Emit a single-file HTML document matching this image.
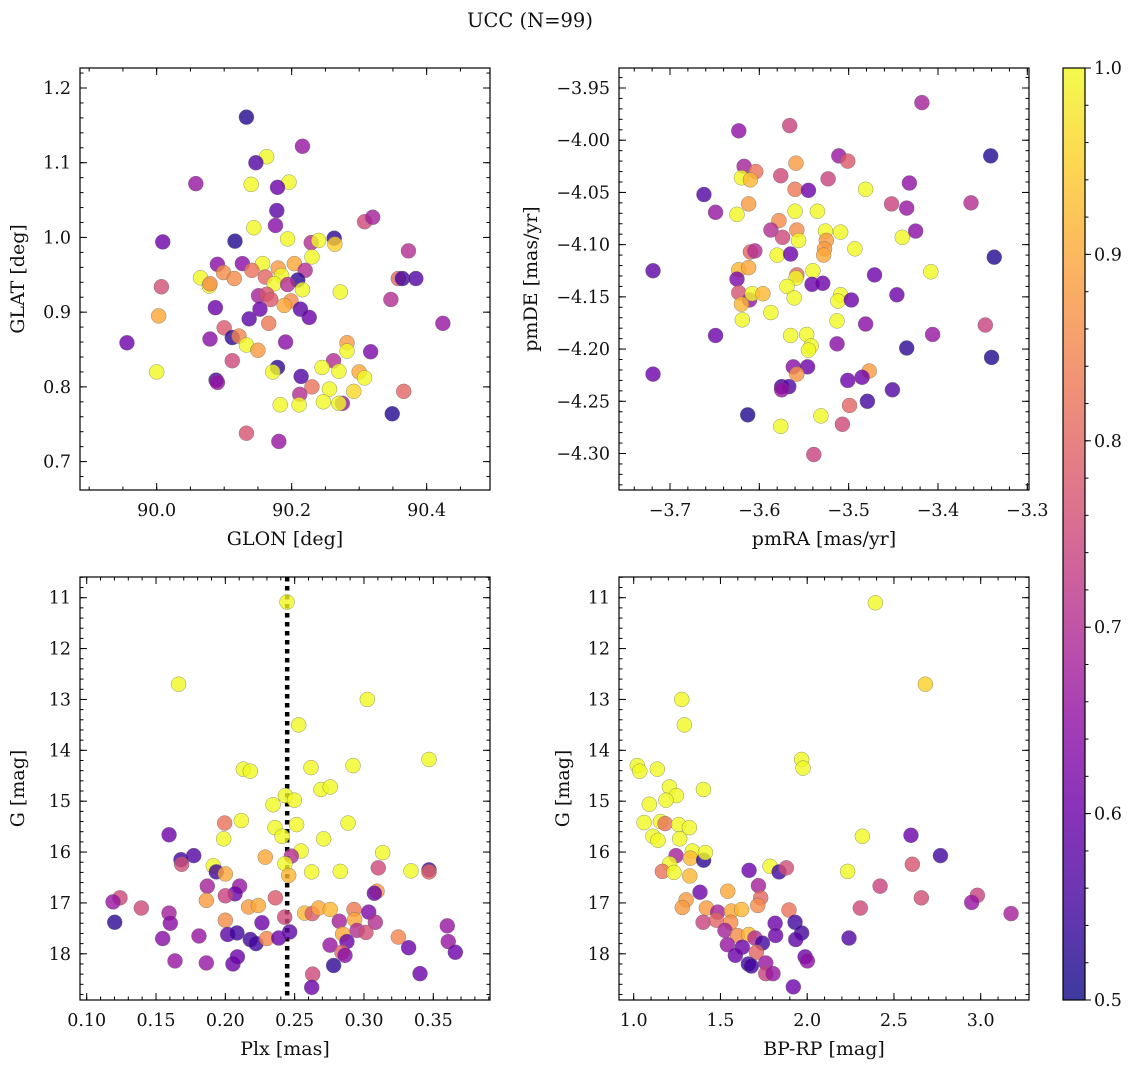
<!DOCTYPE html>
<html><head><meta charset="utf-8"><title>UCC (N=99)</title>
<style>
html,body{margin:0;padding:0;background:#fff;}
svg{display:block;}
text{font-family:"DejaVu Serif","Liberation Serif",serif;fill:#111;}
</style></head>
<body>
<svg id="fig" width="1136" height="1067" viewBox="0 0 1136 1067" xmlns="http://www.w3.org/2000/svg">
<defs>
<linearGradient id="plasma" x1="0" y1="1" x2="0" y2="0">
<stop offset="0" stop-color="#0d0887"/><stop offset="0.1" stop-color="#41049d"/><stop offset="0.2" stop-color="#6a00a8"/><stop offset="0.3" stop-color="#8f0da4"/><stop offset="0.4" stop-color="#b12a90"/><stop offset="0.5" stop-color="#cc4778"/><stop offset="0.6" stop-color="#e16462"/><stop offset="0.7" stop-color="#f2844b"/><stop offset="0.8" stop-color="#fca636"/><stop offset="0.9" stop-color="#fcce25"/><stop offset="1" stop-color="#f0f921"/>
</linearGradient>
</defs>
<text x="530" y="27" font-size="19.5" text-anchor="middle">UCC (N=99)</text>
<g id="layer"></g>
</svg>
<script>
// ---- Panel 1: GLON vs GLAT ----
const p1Glon=[90.133,90.216,90.163,90.147,90.058,90.140,90.196,90.179,90.178,90.176,90.144,90.194,90.116,90.009,90.229,90.240,90.263,90.264,90.308,90.320,90.373,90.230,90.090,90.127,90.157,90.204,90.180,90.141,90.220,90.099,90.065,90.115,90.161,90.185,90.209,90.078,90.079,90.174,90.194,90.216,90.272,90.358,90.364,90.384,90.007,90.151,90.163,90.169,90.199,90.189,90.347,90.087,90.153,90.213,90.226,90.137,90.003,90.166,90.424,90.100,90.112,90.122,90.079,90.133,90.150,90.191,90.282,90.282,90.317,89.956,90.112,90.262,90.179,90.172,90.245,90.270,90.300,90.308,90.000,90.088,90.090,90.214,90.230,90.256,90.292,90.366,90.212,90.247,90.275,90.270,90.183,90.211,90.349,90.133,90.181];
const p1Glat=[1.161,1.122,1.108,1.100,1.072,1.071,1.074,1.067,1.036,1.016,1.013,0.998,0.995,0.994,0.993,0.996,0.999,0.991,1.021,1.027,0.982,0.974,0.964,0.965,0.965,0.965,0.959,0.956,0.956,0.953,0.946,0.945,0.947,0.949,0.943,0.935,0.938,0.938,0.937,0.930,0.927,0.945,0.945,0.945,0.934,0.922,0.924,0.917,0.915,0.909,0.917,0.906,0.904,0.904,0.893,0.891,0.895,0.885,0.885,0.879,0.866,0.868,0.864,0.856,0.849,0.860,0.859,0.848,0.847,0.859,0.835,0.835,0.826,0.820,0.826,0.821,0.820,0.812,0.820,0.809,0.806,0.814,0.800,0.797,0.794,0.794,0.790,0.780,0.778,0.778,0.776,0.776,0.764,0.738,0.727];
const p1Prob=[.52,.66,1,.57,.66,1,1,.6,.58,.64,1,1,.52,.6,.7,1,.53,.95,.75,.68,.7,1,.64,.64,1,.9,.88,.82,.7,.86,1,.86,.8,1,.53,1,.86,1,.7,1,1,.8,.55,.57,.76,.68,.77,.78,.86,.9,.7,.6,.6,.58,.6,.58,.9,.83,.66,.78,.53,.85,.64,1,.88,.64,.88,1,.62,.6,.75,.7,.53,1,1,1,.9,1,1,.55,.66,.57,.82,1,.96,.8,.7,1,.66,1,1,1,.52,.77,.66];
// ---- Panel 2: pmRA vs pmDE ----
const p2PmRA=[-3.418,-3.566,-3.623,-3.341,-3.511,-3.501,-3.559,-3.617,-3.604,-3.620,-3.610,-3.576,-3.523,-3.432,-3.662,-3.560,-3.545,-3.481,-3.612,-3.649,-3.625,-3.560,-3.535,-3.452,-3.435,-3.363,-3.578,-3.587,-3.558,-3.574,-3.556,-3.526,-3.509,-3.525,-3.527,-3.528,-3.440,-3.425,-3.493,-3.610,-3.605,-3.580,-3.565,-3.337,-3.719,-3.623,-3.612,-3.625,-3.540,-3.558,-3.559,-3.471,-3.408,-3.541,-3.529,-3.623,-3.611,-3.608,-3.596,-3.620,-3.569,-3.561,-3.509,-3.512,-3.497,-3.446,-3.587,-3.619,-3.513,-3.481,-3.347,-3.649,-3.565,-3.547,-3.542,-3.545,-3.513,-3.406,-3.435,-3.340,-3.719,-3.562,-3.546,-3.558,-3.477,-3.485,-3.501,-3.575,-3.567,-3.575,-3.451,-3.479,-3.499,-3.613,-3.531,-3.576,-3.507,-3.539];
const p2PmDE=[-3.964,-3.986,-3.991,-4.015,-4.015,-4.020,-4.022,-4.025,-4.030,-4.036,-4.038,-4.034,-4.037,-4.041,-4.052,-4.047,-4.048,-4.047,-4.061,-4.069,-4.071,-4.068,-4.068,-4.061,-4.065,-4.060,-4.077,-4.086,-4.086,-4.093,-4.096,-4.087,-4.088,-4.096,-4.104,-4.110,-4.093,-4.087,-4.104,-4.107,-4.106,-4.110,-4.109,-4.112,-4.125,-4.124,-4.122,-4.133,-4.125,-4.129,-4.132,-4.129,-4.126,-4.138,-4.137,-4.146,-4.153,-4.147,-4.147,-4.157,-4.140,-4.151,-4.148,-4.154,-4.153,-4.148,-4.165,-4.172,-4.173,-4.176,-4.177,-4.187,-4.187,-4.186,-4.197,-4.201,-4.195,-4.186,-4.199,-4.208,-4.224,-4.217,-4.217,-4.224,-4.221,-4.227,-4.230,-4.236,-4.236,-4.239,-4.239,-4.250,-4.254,-4.263,-4.264,-4.274,-4.272,-4.301];
const p2Prob=[.68,.74,.65,.52,.66,.78,.88,.68,.82,1,.92,.75,.74,.65,.57,.83,.6,1,.88,.66,1,1,1,.74,.66,.7,.86,.7,.86,.75,1,1,1,.88,.88,.9,1,.64,1,.8,.7,1,.6,.52,.58,.92,.9,.62,1,.8,1,.6,1,.6,.6,.77,.66,1,.92,.92,1,1,1,1,.6,.6,1,1,1,.64,.74,.6,1,1,1,1,.64,.66,.53,.52,.6,.64,.6,.87,.88,.6,.6,.55,.57,.66,.57,.55,.8,.52,1,1,.75,.74];
// ---- Panel 3: Plx vs G ----
const p3Plx=[0.2445,0.1663,0.3024,0.2529,0.3469,0.2130,0.2180,0.2618,0.2921,0.2690,0.2757,0.2433,0.2498,0.2344,0.2115,0.1995,0.2358,0.2514,0.2885,0.2409,0.1988,0.2709,0.1594,0.2546,0.3135,0.2288,0.2476,0.1772,0.1680,0.1685,0.2430,0.1913,0.1935,0.2000,0.2457,0.2623,0.2829,0.3103,0.3339,0.3469,0.3469,0.1870,0.2103,0.2070,0.2000,0.1240,0.1190,0.1394,0.1863,0.2168,0.2238,0.2361,0.1594,0.1603,0.1202,0.2000,0.2264,0.2428,0.2464,0.2572,0.2627,0.2673,0.2757,0.2928,0.2933,0.2822,0.3034,0.3082,0.3094,0.3075,0.2950,0.3014,0.2846,0.3248,0.3601,0.1548,0.1810,0.2017,0.2084,0.2180,0.2221,0.2298,0.2385,0.2755,0.2877,0.2841,0.2863,0.3322,0.3608,0.3659,0.1637,0.1863,0.2055,0.2087,0.2781,0.2630,0.2623,0.3404];
const p3G=[11.085,12.70,13.00,13.50,14.18,14.37,14.41,14.34,14.30,14.77,14.72,14.89,14.98,15.07,15.38,15.43,15.52,15.46,15.43,15.69,15.74,15.74,15.66,15.98,16.01,16.10,16.08,16.07,16.15,16.24,16.23,16.27,16.39,16.43,16.46,16.39,16.38,16.31,16.37,16.35,16.39,16.67,16.67,16.82,16.86,16.90,16.98,17.10,16.95,17.08,17.05,16.90,17.20,17.40,17.38,17.34,17.39,17.28,17.57,17.20,17.21,17.10,17.13,17.13,17.33,17.36,17.18,17.38,16.77,16.81,17.54,17.58,17.61,17.67,17.45,17.70,17.65,17.62,17.59,17.72,17.80,17.70,17.69,17.83,17.76,17.97,18.03,17.88,17.76,17.97,18.14,18.18,18.20,18.06,18.23,18.40,18.66,18.39];
const p3Prob=[1,1,1,1,1,1,1,1,1,1,1,1,1,1,1,.82,1,1,1,1,1,1,.6,1,1,.9,.7,.57,.55,.76,1,1,.55,.9,.92,1,1,.75,1,.55,.8,.68,.66,.6,.74,.75,.66,.75,.88,.88,.9,.78,.68,.64,.53,.86,.6,.75,.58,.92,.78,.9,.92,.83,.9,.68,.62,.7,.88,.6,.7,.76,.9,.85,.66,.64,.66,.58,.55,.55,.55,.85,.6,.66,.6,.8,.64,.6,.66,.6,.66,.66,.6,.6,.53,.75,.6,.6];
const p3PlxLine=[0.2446];
// ---- Panel 4: BP-RP vs G ----
const p4BpRp=[2.393,2.681,1.277,1.292,1.968,1.976,1.021,1.035,1.136,1.206,1.402,1.246,1.186,1.090,1.060,1.154,1.181,1.259,1.321,1.111,1.140,1.265,2.318,2.598,1.244,1.338,1.327,1.403,1.413,2.768,1.207,1.165,1.232,1.323,1.665,1.786,1.838,1.880,2.233,2.606,1.719,1.382,1.542,2.420,1.302,1.280,1.732,1.715,2.658,2.981,2.948,3.175,2.306,1.419,1.484,1.563,1.622,1.895,1.400,1.476,1.559,1.815,1.930,1.526,1.598,1.663,1.699,1.742,1.818,1.968,1.934,2.241,1.540,1.626,1.707,1.586,1.661,1.678,1.761,1.761,1.803,1.988,2.001,1.920];
const p4G=[11.10,12.70,13.00,13.50,14.18,14.35,14.30,14.41,14.37,14.72,14.77,14.89,14.98,15.06,15.42,15.40,15.44,15.46,15.52,15.69,15.77,15.74,15.69,15.67,16.07,15.98,16.12,16.16,16.01,16.07,16.23,16.38,16.40,16.47,16.36,16.28,16.39,16.31,16.38,16.24,16.66,16.79,16.77,16.67,16.94,17.09,16.90,17.05,16.90,16.85,16.99,17.21,17.10,17.10,17.18,17.16,17.13,17.14,17.38,17.34,17.38,17.40,17.38,17.54,17.64,17.62,17.69,17.79,17.64,17.59,17.72,17.69,17.82,17.87,17.97,18.03,18.20,18.24,18.18,18.39,18.39,18.06,18.14,18.65];
const p4Prob=[1,.95,1,1,1,1,1,1,1,1,1,1,1,1,1,1,.82,1,1,1,1,1,1,.6,.68,1,.92,.53,1,.55,1,.82,1,.92,.6,1,.55,.76,1,.77,.68,.6,.9,.74,.88,.88,.8,.86,.76,.74,.66,.68,.75,.88,.68,.9,.92,.82,.74,.8,.86,.6,.55,.68,.86,.92,.7,.55,.6,.55,.58,.57,.66,.6,.8,.6,.55,.55,.66,.74,.66,.6,.65,.6];
// ---- tick labels ----
const p1XTicks=[90.0,90.2,90.4], p1XLabels=["90.0","90.2","90.4"];
const p1YTicks=[0.7,0.8,0.9,1.0,1.1,1.2], p1YLabels=["0.7","0.8","0.9","1.0","1.1","1.2"];
const p2XTicks=[-3.7,-3.6,-3.5,-3.4,-3.3], p2XLabels=["−3.7","−3.6","−3.5","−3.4","−3.3"];
const p2YTicks=[-3.95,-4.00,-4.05,-4.10,-4.15,-4.20,-4.25,-4.30], p2YLabels=["−3.95","−4.00","−4.05","−4.10","−4.15","−4.20","−4.25","−4.30"];
const p3XTicks=[0.10,0.15,0.20,0.25,0.30,0.35], p3XLabels=["0.10","0.15","0.20","0.25","0.30","0.35"];
const gTicks=[11,12,13,14,15,16,17,18], gLabels=["11","12","13","14","15","16","17","18"];
const p4XTicks=[1.0,1.5,2.0,2.5,3.0], p4XLabels=["1.0","1.5","2.0","2.5","3.0"];
const cbTicks=[0.5,0.6,0.7,0.8,0.9,1.0], cbLabels=["0.5","0.6","0.7","0.8","0.9","1.0"];

const NS="http://www.w3.org/2000/svg";
const layer=document.getElementById('layer');
const TICKFS=17.5, LABFS=19;
function mk(tag,attrs,parent){const e=document.createElementNS(NS,tag);for(const k in attrs)e.setAttribute(k,attrs[k]);(parent||layer).appendChild(e);return e;}
function lin(d0,d1,r0,r1){return v=>r0+(v-d0)/(d1-d0)*(r1-r0);}
const stops=[[13,8,135],[65,4,157],[106,0,168],[143,13,164],[177,42,144],[204,71,120],[225,100,98],[242,132,75],[252,166,54],[252,206,37],[240,249,33]];
function plasma(p){let t=Math.max(0,Math.min(1,(p-0.5)/0.5))*10;const i=Math.min(9,Math.floor(t));const f=t-i;const a=stops[i],b=stops[i+1];return `rgb(${[0,1,2].map(k=>Math.round(a[k]+(b[k]-a[k])*f)).join(',')})`;}
function range(a,b,s){const o=[];for(let k=Math.ceil(a/s-1e-6);k*s<=b+1e-9;k++)o.push(+(k*s).toFixed(6));return o;}

function panel(cfg){
  const g=mk('g',{});
  
  
  const {L,R,T,B,xs,ys}=cfg;
  const clipId=cfg.name+'-clip';
  const cp=mk('clipPath',{id:clipId},g);mk('rect',{x:L,y:T,width:R-L,height:B-T},cp);
  const pts=mk('g',{'clip-path':`url(#${clipId})`},g);
  
  
  if(cfg.vline){cfg.vline.forEach(v=>{const l=mk('line',{x1:xs(v),x2:xs(v),y1:T,y2:B,stroke:'#000','stroke-width':4.5,'stroke-dasharray':'4.5 4.5'},pts);
    
    });}
  const n=Math.min(cfg.x.length,cfg.y.length,cfg.c.length);
  for(let i=0;i<n;i++){
    const c=mk('circle',{cx:xs(cfg.x[i]).toFixed(2),cy:ys(cfg.y[i]).toFixed(2),r:7.5,fill:plasma(cfg.c[i]),'fill-opacity':0.8,stroke:'#666','stroke-width':0.5,'stroke-opacity':0.7},pts);
    
    
  }
  const tk=mk('g',{stroke:'#000','stroke-width':1},g);
  
  
  range(cfg.xMinor[0],cfg.xMinor[1],cfg.xMinor[2]).forEach(v=>{const x=xs(v);if(x<L-0.5||x>R+0.5)return;mk('line',{x1:x,x2:x,y1:B,y2:B-3.5},tk);mk('line',{x1:x,x2:x,y1:T,y2:T+3.5},tk);});
  range(cfg.yMinor[0],cfg.yMinor[1],cfg.yMinor[2]).forEach(v=>{const y=ys(v);if(y<T-0.5||y>B+0.5)return;mk('line',{x1:L,x2:L+3.5,y1:y,y2:y},tk);mk('line',{x1:R,x2:R-3.5,y1:y,y2:y},tk);});
  cfg.xT.forEach((v,i)=>{const x=xs(v);mk('line',{x1:x,x2:x,y1:B,y2:B-7},tk);mk('line',{x1:x,x2:x,y1:T,y2:T+7},tk);
    const t=mk('text',{x:x,y:B+26,'font-size':TICKFS,'text-anchor':'middle'},g);t.textContent=cfg.xL[i];
    
    });
  cfg.yT.forEach((v,i)=>{const y=ys(v);mk('line',{x1:L,x2:L+7,y1:y,y2:y},tk);mk('line',{x1:R,x2:R-7,y1:y,y2:y},tk);
    const t=mk('text',{x:L-9,y:y+6,'font-size':TICKFS,'text-anchor':'end'},g);t.textContent=cfg.yL[i];
    
    });
  const fr=mk('rect',{x:L,y:T,width:R-L,height:B-T,fill:'none',stroke:'#000','stroke-width':1.2},g);
  
  
  const xl=mk('text',{x:(L+R)/2,y:B+55,'font-size':LABFS,'text-anchor':'middle'},g);xl.textContent=cfg.xlab;
  
  
  const yx=cfg.ylabX, yy=(T+B)/2;
  const yl=mk('text',{x:yx,y:yy,'font-size':LABFS,'text-anchor':'middle',transform:`rotate(-90 ${yx} ${yy})`},g);yl.textContent=cfg.ylab;
  
  
}
const gScale=lin(11,18,597.7,953.8);
panel({name:'glon-glat-panel',L:80,R:490,T:68,B:490,xs:lin(90,90.4,156.67,426.67),ys:lin(1.2,0.7,88,461.6),
  x:p1Glon,y:p1Glat,c:p1Prob,xT:p1XTicks,xL:p1XLabels,yT:p1YTicks,yL:p1YLabels,xMinor:[89.8,90.55,0.05],yMinor:[0.6,1.3,0.02],
  xlab:'GLON [deg]',ylab:'GLAT [deg]',ylabX:24});
panel({name:'pm-panel',L:619,R:1029,T:68,B:490,xs:lin(-3.7,-3.3,670,1027.3),ys:lin(-3.95,-4.30,88,453.5),
  x:p2PmRA,y:p2PmDE,c:p2Prob,xT:p2XTicks,xL:p2XLabels,yT:p2YTicks,yL:p2YLabels,xMinor:[-3.8,-3.26,0.02],yMinor:[-4.36,-3.9,0.01],
  xlab:'pmRA [mas/yr]',ylab:'pmDE [mas/yr]',ylabX:537});
panel({name:'plx-g-panel',L:80,R:490,T:577,B:1000,xs:lin(0.10,0.35,86.7,433.3),ys:gScale,
  x:p3Plx,y:p3G,c:p3Prob,xT:p3XTicks,xL:p3XLabels,yT:gTicks,yL:gLabels,xMinor:[0.05,0.42,0.01],yMinor:[10,19.4,0.2],
  xlab:'Plx [mas]',ylab:'G [mag]',ylabX:24,vline:p3PlxLine});
panel({name:'cmd-panel',L:619,R:1029,T:577,B:1000,xs:lin(1.0,3.0,633.7,980.7),ys:gScale,
  x:p4BpRp,y:p4G,c:p4Prob,xT:p4XTicks,xL:p4XLabels,yT:gTicks,yL:gLabels,xMinor:[0.8,3.4,0.1],yMinor:[10,19.4,0.2],
  xlab:'BP-RP [mag]',ylab:'G [mag]',ylabX:569});
(function(){
  const cb=mk('g',{});
  
  
  const s=lin(0.5,1.0,1000,68);
  const r=mk('rect',{x:1063,y:68,width:22,height:932,fill:'url(#plasma)','fill-opacity':0.8},cb);
  
  
  mk('rect',{x:1063,y:68,width:22,height:932,fill:'none',stroke:'#000','stroke-width':1.2},cb);
  range(0.5,1.0,0.02).forEach(v=>{mk('line',{x1:1085,x2:1088.5,y1:s(v),y2:s(v),stroke:'#000'},cb);});
  cbTicks.forEach((v,i)=>{mk('line',{x1:1085,x2:1091,y1:s(v),y2:s(v),stroke:'#000'},cb);
    const t=mk('text',{x:1094,y:s(v)+6,'font-size':TICKFS},cb);t.textContent=cbLabels[i];
    
    });
})();
</script>
</body></html>
